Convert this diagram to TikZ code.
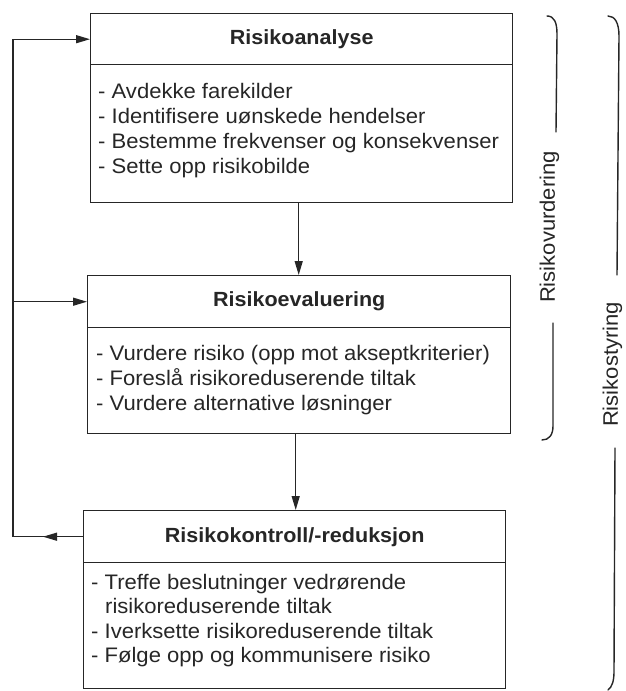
\documentclass[tikz,border=0pt]{standalone}
\usepackage{fontspec}
\setmainfont[FakeStretch=1.05]{Liberation Sans}
\usetikzlibrary{arrows.meta}
\definecolor{ink}{HTML}{262626}
\begin{document}
\begin{tikzpicture}[x=1pt,y=-1pt,
  boxshape/.style={draw=ink, line width=1.4pt, rectangle, inner sep=0pt, anchor=north west},
  hdr/.style={boxshape, font=\fontsize{20.5}{24}\selectfont\bfseries, text=ink},
  bodytext/.style={anchor=north west, inner sep=0pt, align=left, text=ink},
  conn/.style={draw=ink, line width=1.3pt},
  arr/.style={conn, -{Triangle[length=14pt,width=8pt]}},
  brc/.style={draw=ink, line width=1.4pt, line cap=round},
  sidelabel/.style={rotate=90, inner sep=0pt, text=ink, font=\fontsize{21}{24}\selectfont}
]
\useasboundingbox (0,0) rectangle (626,691);

% Box 1
\node[hdr, minimum width=422pt, minimum height=51pt] (h1) at (90,13) {Risikoanalyse};
\node[boxshape, minimum width=422pt, minimum height=138pt] (b1) at (90,64) {};
\node[bodytext, font=\fontsize{21}{25}\selectfont] (t1) at (98,82.5)
  {\rule{0pt}{15.5pt}- Avdekke farekilder\\
   - Identifisere uønskede hendelser\\
   - Bestemme frekvenser og konsekvenser\\
   - Sette opp risikobilde};

% Box 2
\node[hdr, minimum width=423pt, minimum height=52pt] (h2) at (87,275) {Risikoevaluering};
\node[boxshape, minimum width=423pt, minimum height=106pt] (b2) at (87,327) {};
\node[bodytext, font=\fontsize{21}{25}\selectfont] (t2) at (96,344.5)
  {\rule{0pt}{15.5pt}- Vurdere risiko (opp mot akseptkriterier)\\
   - Foreslå risikoreduserende tiltak\\
   - Vurdere alternative løsninger};

% Box 3
\node[hdr, minimum width=422pt, minimum height=52pt] (h3) at (83,510) {Risikokontroll/-reduksjon};
\node[boxshape, minimum width=422pt, minimum height=126pt] (b3) at (83,562) {};
\node[bodytext, font=\fontsize{21}{24.5}\selectfont] (t3) at (91,573.5)
  {\rule{0pt}{15.5pt}- Treffe beslutninger vedrørende\\
   \hspace*{14pt}risikoreduserende tiltak\\
   - Iverksette risikoreduserende tiltak\\
   - Følge opp og kommunisere risiko};

% Down arrows
\draw[arr] ([xshift=-3pt]b1.south) -- ([xshift=-3pt]b1.south |- h2.north);
\draw[arr] ([xshift=-3.5pt]b2.south) -- ([xshift=-3.5pt]b2.south |- h3.north);

% Feedback loop
\coordinate (lx) at (13,0);
\draw[conn] (h3.west) -- (h3.west -| lx);
\draw[arr] (h3.west) -- ++(-40,0);
\draw[arr] (h3.west -| lx) |- (h1.west);
\draw[arr] (h2.west -| lx) -- (h2.west);

% Brace: Risikovurdering
\draw[brc] (547,16) .. controls (554,16) and (557,22) .. (557,34) -- (556,132);
\draw[brc] (553,323) -- (553,426) .. controls (553,435) and (549,440) .. (542,440);
\node[sidelabel] (lv) at (549.5,227) {Risikovurdering};

% Brace: Risikostyring
\draw[brc] (608,16) .. controls (615,16) and (619,23) .. (619,36) -- (617,275);
\draw[brc] (615,448) -- (614,672) .. controls (614,681) and (612,687) .. (608,690);
\node[sidelabel] (ls) at (612.5,364.5) {Risikostyring};
\end{tikzpicture}
\end{document}
